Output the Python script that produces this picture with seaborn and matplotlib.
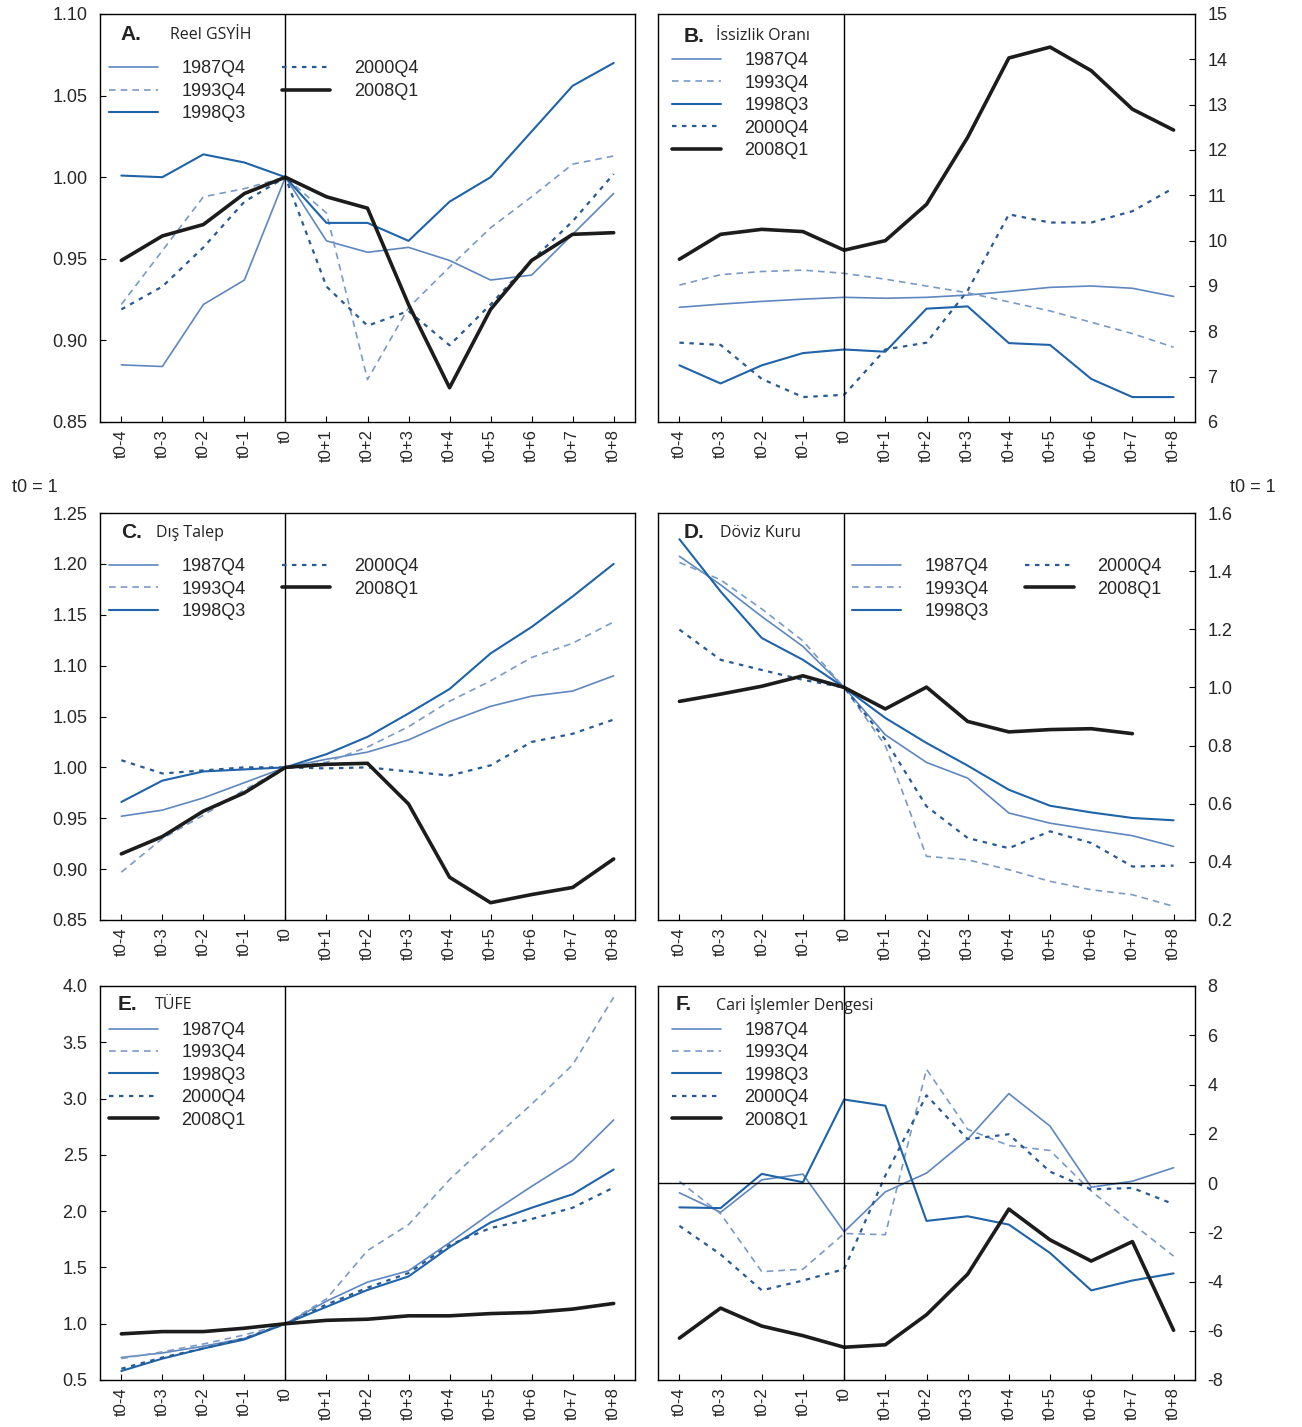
import matplotlib
matplotlib.use("Agg")
import matplotlib.pyplot as plt
import seaborn as sns
import numpy as np

sns.set_style("white")
plt.rcParams['font.family'] = ['Liberation Sans', 'DejaVu Sans']

periods = ["t0-4", "t0-3", "t0-2", "t0-1", "t0", "t0+1", "t0+2", "t0+3",
           "t0+4", "t0+5", "t0+6", "t0+7", "t0+8"]
episodes = ["1987Q4", "1993Q4", "1998Q3", "2000Q4", "2008Q1"]

# A. Reel GSYIH
gdp_87 = [0.885, 0.884, 0.922, 0.937, 1.0, 0.961, 0.954, 0.957, 0.949, 0.937, 0.940, 0.965, 0.990]
gdp_93 = [0.922, 0.955, 0.988, 0.993, 1.0, 0.978, 0.876, 0.920, 0.945, 0.969, 0.988, 1.008, 1.013]
gdp_98 = [1.001, 1.000, 1.014, 1.009, 1.0, 0.972, 0.972, 0.961, 0.985, 1.000, 1.028, 1.056, 1.070]
gdp_00 = [0.919, 0.933, 0.957, 0.985, 1.0, 0.933, 0.909, 0.918, 0.897, 0.922, 0.949, 0.973, 1.002]
gdp_08 = [0.949, 0.964, 0.971, 0.990, 1.0, 0.988, 0.981, 0.922, 0.871, 0.919, 0.949, 0.965, 0.966]

# B. Issizlik orani
une_87 = [8.53, 8.60, 8.66, 8.71, 8.75, 8.73, 8.75, 8.80, 8.88, 8.97, 9.00, 8.95, 8.77]
une_93 = [9.02, 9.25, 9.32, 9.35, 9.28, 9.15, 9.00, 8.85, 8.65, 8.45, 8.20, 7.95, 7.65]
une_98 = [7.25, 6.85, 7.25, 7.52, 7.60, 7.55, 8.50, 8.55, 7.74, 7.70, 6.95, 6.55, 6.55]
une_00 = [7.75, 7.70, 6.95, 6.55, 6.60, 7.60, 7.75, 8.90, 10.58, 10.40, 10.40, 10.65, 11.16]
une_08 = [9.59, 10.14, 10.25, 10.20, 9.79, 10.00, 10.80, 12.28, 14.03, 14.27, 13.75, 12.90, 12.44]

# C. Dis talep
ext_87 = [0.952, 0.958, 0.970, 0.985, 1.0, 1.008, 1.015, 1.027, 1.045, 1.060, 1.070, 1.075, 1.090]
ext_93 = [0.897, 0.930, 0.953, 0.978, 1.0, 1.005, 1.020, 1.040, 1.065, 1.085, 1.108, 1.122, 1.143]
ext_98 = [0.966, 0.987, 0.996, 0.998, 1.0, 1.013, 1.030, 1.053, 1.077, 1.112, 1.138, 1.168, 1.200]
ext_00 = [1.007, 0.994, 0.997, 1.000, 1.0, 0.999, 1.000, 0.996, 0.992, 1.002, 1.025, 1.033, 1.047]
ext_08 = [0.915, 0.932, 0.957, 0.975, 1.0, 1.003, 1.004, 0.964, 0.892, 0.867, 0.875, 0.882, 0.910]

# D. Doviz kuru
fx_87 = [1.451, 1.353, 1.244, 1.141, 1.0, 0.837, 0.742, 0.688, 0.568, 0.533, 0.511, 0.490, 0.453]
fx_93 = [1.430, 1.370, 1.270, 1.160, 1.0, 0.800, 0.419, 0.407, 0.373, 0.333, 0.304, 0.287, 0.247]
fx_98 = [1.510, 1.330, 1.170, 1.095, 1.0, 0.895, 0.809, 0.731, 0.648, 0.593, 0.570, 0.551, 0.543]
fx_00 = [1.199, 1.095, 1.060, 1.026, 1.0, 0.820, 0.591, 0.482, 0.447, 0.505, 0.465, 0.384, 0.387]
fx_08 = [0.952, 0.977, 1.004, 1.040, 1.0, 0.926, 1.001, 0.883, 0.847, 0.855, 0.858, 0.841, np.nan]

# E. TUFE
cpi_87 = [0.70, 0.74, 0.80, 0.87, 1.0, 1.20, 1.37, 1.47, 1.72, 1.98, 2.22, 2.45, 2.81]
cpi_93 = [0.69, 0.75, 0.82, 0.90, 1.0, 1.22, 1.65, 1.88, 2.28, 2.62, 2.95, 3.30, 3.90]
cpi_98 = [0.58, 0.69, 0.78, 0.86, 1.0, 1.15, 1.30, 1.42, 1.68, 1.90, 2.03, 2.15, 2.37]
cpi_00 = [0.60, 0.70, 0.78, 0.87, 1.0, 1.17, 1.32, 1.45, 1.70, 1.85, 1.93, 2.03, 2.21]
cpi_08 = [0.91, 0.93, 0.93, 0.96, 1.0, 1.03, 1.04, 1.07, 1.07, 1.09, 1.10, 1.13, 1.18]

# F. Cari islemler dengesi
ca_87 = [-0.40, -1.19, 0.13, 0.36, -1.98, -0.36, 0.40, 1.78, 3.63, 2.31, -0.17, 0.07, 0.62]
ca_93 = [0.07, -1.25, -3.60, -3.50, -2.05, -2.10, 4.62, 2.18, 1.52, 1.32, -0.33, -1.65, -2.97]
ca_98 = [-0.99, -1.02, 0.37, 0.03, 3.39, 3.14, -1.54, -1.35, -1.69, -2.84, -4.36, -3.96, -3.67]
ca_00 = [-1.74, -2.90, -4.36, -3.96, -3.50, 0.30, 3.56, 1.78, 1.98, 0.46, -0.26, -0.20, -0.86]
ca_08 = [-6.30, -5.08, -5.81, -6.20, -6.67, -6.57, -5.35, -3.70, -1.06, -2.31, -3.17, -2.38, -5.98]

colors = ["#5f87bf", "#7a9ac6", "#1f63a8", "#2a5a94", "#1c1c1c"]
styles = ["-", (0, (4, 3)), "-", (0, (2, 2.5)), "-"]
widths = [1.2, 1.2, 1.5, 1.6, 2.6]

fig = plt.figure(figsize=(13.02, 14.27), dpi=100)
W, H = 1302, 1427


def make_ax(x0, x1, y0, y1):
    return fig.add_axes([x0 / W, 1 - y1 / H, (x1 - x0) / W, (y1 - y0) / H])


def draw(ax, data, ylim, yticks, yfmt, right, letter, title, leg_ncol, leg_pos):
    x = np.arange(len(periods))
    for name, vals, c, ls, lw in zip(episodes, data, colors, styles, widths):
        sns.lineplot(x=x, y=vals, ax=ax, color=c, linestyle=ls, linewidth=lw,
                     label=name)
    ax.axvline(4, color="black", lw=1)
    ax.set_xlim(-0.52, 12.52)
    ax.set_ylim(ylim)
    ax.set_xticks(x)
    ax.set_xticklabels(periods, rotation=90, fontsize=12)
    ax.set_yticks(yticks)
    ax.set_yticklabels([yfmt % v for v in yticks], fontsize=13)
    ax.set_xlabel("")
    ax.set_ylabel("")
    for s in ax.spines.values():
        s.set_color("black")
        s.set_linewidth(1)
    ax.tick_params(axis="x", bottom=True, direction="in", length=4,
                   color="black", pad=5)
    if right:
        ax.yaxis.tick_right()
        ax.tick_params(axis="y", right=True, left=False, direction="in",
                       length=4, color="black", pad=9)
    else:
        ax.tick_params(axis="y", left=True, direction="in", length=4,
                       color="black", pad=9)
    ax.text(letter[0], letter[1], letter[2], transform=ax.transAxes,
            fontsize=15, fontweight="bold", va="center", ha="left",
            color="#222222")
    ax.text(title[0], letter[1], title[1], transform=ax.transAxes,
            fontsize=11.5, va="center", ha="left", family=["Open Sans", "DejaVu Sans"],
            color="#222222")
    ax.legend(loc="upper left", bbox_to_anchor=leg_pos, ncol=leg_ncol,
              frameon=False, fontsize=13, handlelength=2.7, handletextpad=1.3,
              columnspacing=2.0, labelspacing=0.3, borderaxespad=0,
              borderpad=0.2)


axA = make_ax(100, 635, 14, 422)
axB = make_ax(658, 1195, 14, 422)
axC = make_ax(100, 635, 513, 920)
axD = make_ax(658, 1195, 513, 920)
axE = make_ax(100, 635, 986, 1380)
axF = make_ax(658, 1195, 986, 1380)

draw(axA, [gdp_87, gdp_93, gdp_98, gdp_00, gdp_08], (0.85, 1.10),
     np.arange(0.85, 1.101, 0.05), "%.2f", False,
     (0.039, 0.949, "A."), (0.131, "Reel GSYİH"), 2, (0.01, 0.895))
draw(axB, [une_87, une_93, une_98, une_00, une_08], (6, 15),
     np.arange(6, 16, 1), "%d", True,
     (0.047, 0.946, "B."), (0.108, "İssizlik Oranı"), 1, (0.02, 0.915))
draw(axC, [ext_87, ext_93, ext_98, ext_00, ext_08], (0.85, 1.25),
     np.arange(0.85, 1.251, 0.05), "%.2f", False,
     (0.039, 0.951, "C."), (0.105, "Dış Talep"), 2, (0.01, 0.898))
draw(axD, [fx_87, fx_93, fx_98, fx_00, fx_08], (0.2, 1.6),
     np.arange(0.2, 1.61, 0.2), "%.1f", True,
     (0.047, 0.951, "D."), (0.115, "Döviz Kuru"), 2, (0.355, 0.898))
draw(axE, [cpi_87, cpi_93, cpi_98, cpi_00, cpi_08], (0.5, 4.0),
     np.arange(0.5, 4.01, 0.5), "%.1f", False,
     (0.033, 0.953, "E."), (0.103, "TÜFE"), 1, (0.01, 0.918))
draw(axF, [ca_87, ca_93, ca_98, ca_00, ca_08], (-8, 8),
     np.arange(-8, 9, 2), "%d", True,
     (0.033, 0.953, "F."), (0.108, "Cari İşlemler Dengesi"), 1, (0.02, 0.918))
axF.axhline(0, color="black", lw=1)

fig.text(12 / W, 1 - 488 / H, "t0 = 1", fontsize=13, va="center", ha="left")
fig.text(1230 / W, 1 - 488 / H, "t0 = 1", fontsize=13, va="center", ha="left")

fig.savefig("out.png", dpi=100)
